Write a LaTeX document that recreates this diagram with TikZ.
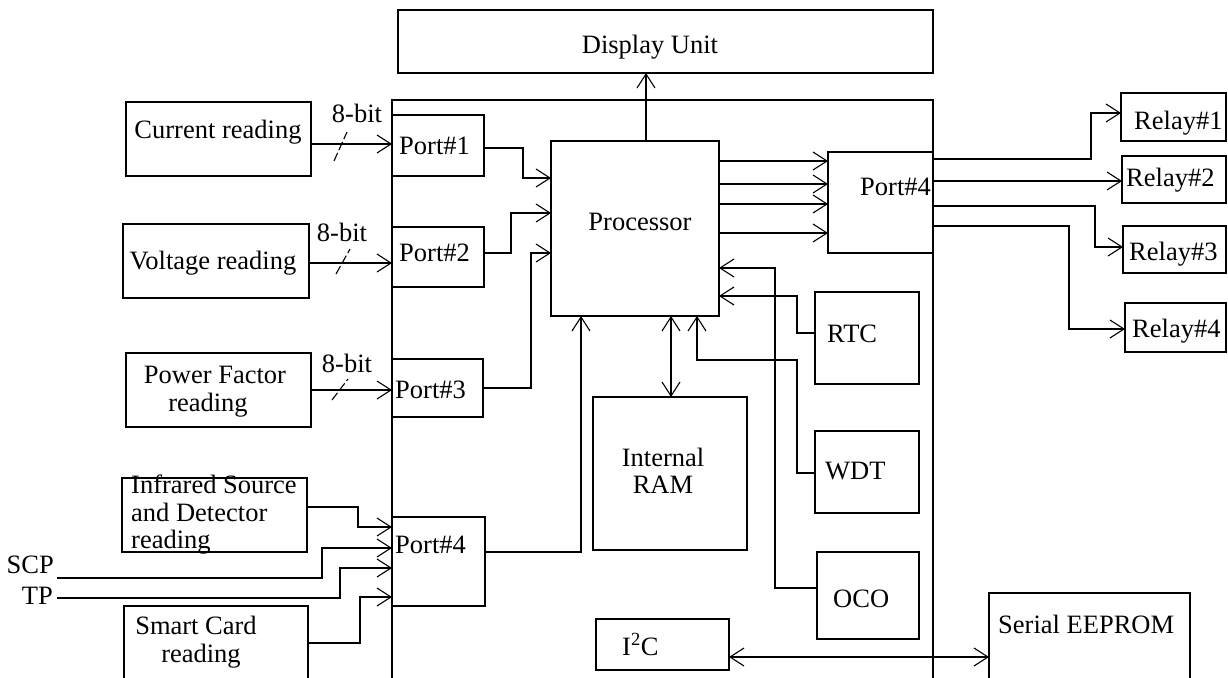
\documentclass[tikz,border=0pt]{standalone}
\usepackage{fontspec}
\setmainfont{Liberation Serif}
\usetikzlibrary{arrows.meta}
\begin{document}
\begin{tikzpicture}[x=1pt,y=-1pt,
  box/.style={draw, line width=1.3pt, inner sep=0pt, outer sep=0pt, anchor=north west},
  lbl/.style={inner sep=0pt, anchor=base, font=\fontsize{26.5}{28}\selectfont},
  lblw/.style={lbl, anchor=base west},
  lble/.style={lbl, anchor=base east},
  wire/.style={line width=1.3pt},
  tip/.style={},
  arr/.style={wire, -{Straight Barb[length=14pt,width=18pt,line width=1.1pt]}},
  darr/.style={wire, {Straight Barb[length=14pt,width=18pt,line width=1.1pt]}-{Straight Barb[length=14pt,width=18pt,line width=1.1pt]}},
  bus/.style={line width=1.1pt, dash pattern=on 9pt off 3pt}
]
\useasboundingbox (0,0) rectangle (1228,677);
\clip (0,0) rectangle (1228,677);
\fill[white] (0,0) rectangle (1228,677);

% boxes
\node[box, minimum width=535pt, minimum height=63pt] (disp) at (398,10) {};
\node[box, minimum width=541pt, minimum height=620pt] (mcu) at (392,100) {};
\node[box, minimum width=92pt, minimum height=61pt] (port1) at (392,115) {};
\node[box, minimum width=92pt, minimum height=60pt] (port2) at (392,227) {};
\node[box, minimum width=91pt, minimum height=58pt] (port3) at (392,359) {};
\node[box, minimum width=93pt, minimum height=89pt] (port4L) at (392,517) {};
\node[box, minimum width=168pt, minimum height=175pt] (proc) at (551,141) {};
\node[box, minimum width=105pt, minimum height=101pt] (port4R) at (828,152) {};
\node[box, minimum width=105pt, minimum height=48pt] (relay1) at (1121,93) {};
\node[box, minimum width=104pt, minimum height=47pt] (relay2) at (1122,156) {};
\node[box, minimum width=103pt, minimum height=47pt] (relay3) at (1123,226) {};
\node[box, minimum width=101pt, minimum height=49pt] (relay4) at (1125,303) {};
\node[box, minimum width=185pt, minimum height=74pt] (cur) at (126,102) {};
\node[box, minimum width=186pt, minimum height=74pt] (volt) at (123,224) {};
\node[box, minimum width=185pt, minimum height=74pt] (pf) at (126,353) {};
\node[box, minimum width=185pt, minimum height=74pt] (ir) at (122,478) {};
\node[box, minimum width=184pt, minimum height=120pt] (sc) at (124,606) {};
\node[box, minimum width=154pt, minimum height=153pt] (ram) at (593,397) {};
\node[box, minimum width=104pt, minimum height=92pt] (rtc) at (815,292) {};
\node[box, minimum width=104pt, minimum height=82pt] (wdt) at (815,431) {};
\node[box, minimum width=102pt, minimum height=87pt] (oco) at (817,552) {};
\node[box, minimum width=133pt, minimum height=51pt] (i2c) at (596,619) {};
\node[box, minimum width=201pt, minimum height=120pt] (eep) at (989,593) {};

% texts
\node[lbl] at (650,53) {Display Unit};
\node[lbl] at (218,138) {Current reading};
\node[lbl] at (213,269) {Voltage reading};
\node[lbl] at (215,383) {Power Factor};
\node[lbl] at (208,411) {reading};
\node[lblw] at (131,493) {Infrared Source};
\node[lblw] at (131,521) {and Detector};
\node[lblw] at (131,548) {reading};
\node[lbl] at (196,634) {Smart Card};
\node[lbl] at (201,662) {reading};
\node[lble] (scp) at (54,573) {SCP};
\node[lble] (tp) at (53,604) {TP};
\node[lbl] at (357,122) {8-bit};
\node[lbl] at (342,241) {8-bit};
\node[lbl] at (347,372) {8-bit};
\node[lblw] at (399,154) {Port\#1};
\node[lblw] at (399,261) {Port\#2};
\node[lblw] at (395,398) {Port\#3};
\node[lblw] at (395,553) {Port\#4};
\node[lbl] at (640,230) {Processor};
\node[lblw] at (860,195) {Port\#4};
\node[lblw] at (1134,129) {Relay\#1};
\node[lblw] at (1126,186) {Relay\#2};
\node[lblw] at (1129,260) {Relay\#3};
\node[lblw] at (1132,337) {Relay\#4};
\node[lblw] at (827,342) {RTC};
\node[lblw] at (825,479) {WDT};
\node[lblw] at (833,607) {OCO};
\node[lbl] at (663,466) {Internal};
\node[lbl] at (663,493) {RAM};
\node[lblw] at (622,655) {I\textsuperscript{2}C};
\node[lblw] at (998,633) {Serial EEPROM};

\coordinate (scpin) at (57,578);
\coordinate (tpin) at (57,598);

% 8-bit buses
\draw[arr] (cur.east |- 0,144) -- (port1.west |- 0,144);
\draw[bus] (334,161) -- (347,132);
\draw[arr] (volt.east |- 0,263) -- (port2.west |- 0,263);
\draw[bus] (336,274) -- (350,249);
\draw[arr] (pf.east |- 0,390) -- (port3.west |- 0,390);
\draw[bus] (332,400) -- (348,379);

% ports to processor
\draw[arr] (port1.east |- 0,148) -| (523,178) -- (proc.west |- 0,178);
\draw[arr] (port2.east |- 0,253) -| (511,213) -- (proc.west |- 0,213);
\draw[arr] (port3.east |- 0,388) -| (531,253) -- (proc.west |- 0,253);
\draw[arr] (port4L.east |- 0,552) -| (proc.south -| 581,0);

% inputs to port4
\draw[arr] (ir.east |- 0,507) -| (358,527) -- (port4L.west |- 0,527);
\draw[arr] (scpin) -| (322,548) -- (port4L.west |- 0,548);
\draw[arr] (tpin) -| (340,568) -- (port4L.west |- 0,568);
\draw[arr] (sc.east |- 0,643) -| (360,597) -- (port4L.west |- 0,597);

% processor to display
\draw[arr] (proc.north -| 646,0) -- (disp.south -| 646,0);

% processor to port4 right
\foreach \yy in {161,184,204,233}
  \draw[arr] (proc.east |- 0,\yy) -- (port4R.west |- 0,\yy);

% port4 right to relays
\draw[arr] (port4R.east |- 0,159) -| (1091,113) -- (relay1.west |- 0,113);
\draw[arr] (port4R.east |- 0,181) -- (relay2.west |- 0,181);
\draw[arr] (port4R.east |- 0,206) -| (1095,247) -- (relay3.west |- 0,247);
\draw[arr] (port4R.east |- 0,226) -| (1069,329) -- (relay4.west |- 0,329);

% peripherals
\draw[arr] (rtc.west |- 0,333) -| (797,296) -- (proc.east |- 0,296);
\draw[arr] (oco.west |- 0,588) -| (775,268) -- (proc.east |- 0,268);
\draw[arr] (wdt.west |- 0,473) -| (797,360) -| (proc.south -| 697,0);
\draw[darr] (proc.south -| 671,0) -- (ram.north -| 671,0);
\draw[darr] (i2c.east |- 0,657) -- (eep.west |- 0,657);
\end{tikzpicture}
\end{document}
